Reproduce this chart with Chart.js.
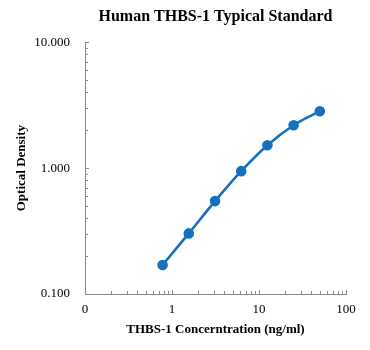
<!DOCTYPE html>
<html>
<head>
<meta charset="utf-8">
<script src="https://cdn.jsdelivr.net/npm/chart.js@4"></script>
<style>
  html, body { margin: 0; padding: 0; background: #fff; }
  #wrap { width: 370px; height: 350px; }
</style>
</head>
<body>
<div id="wrap"><canvas id="curve" width="370" height="350"></canvas></div>
<script>
// standard curve readings
const concentrations = [0.78, 1.56, 3.125, 6.25, 12.5, 25, 50];
const opticalDensity = [0.170, 0.303, 0.547, 0.946, 1.52, 2.19, 2.83];

const xTickValues = [0.1, 1, 10, 100];
const xTickLabels = ['0', '1', '10', '100'];
const yTickValues = [0.1, 1, 10];
const yTickLabels = ['0.100', '1.000', '10.000'];

const serif = 'Liberation Serif';
const axisGrey = '#8a8a8a';
const blue = '#1670C0';

// Excel-style tick marks drawn on the inside of the axes
const innerTicks = {
    id: 'innerTicks',
    afterDraw(chart) {
        const ctx = chart.ctx;
        const xs = chart.scales.x, ys = chart.scales.y;
        const area = chart.chartArea;
        ctx.save();
        ctx.strokeStyle = axisGrey;
        ctx.lineWidth = 1;
        ctx.beginPath();
        for (let d = 0.1; d < 100; d *= 10) {
            for (let m = 1; m <= 10; m++) {
                const v = d * m;
                if (v > 100.0001) continue;
                const px = Math.round(xs.getPixelForValue(v)) + 0.5;
                const len = (m === 1 || m === 10) ? 4 : 3;
                ctx.moveTo(px, area.bottom);
                ctx.lineTo(px, area.bottom - len);
            }
        }
        for (let d = 0.1; d < 10; d *= 10) {
            for (let m = 1; m <= 10; m++) {
                const v = d * m;
                const py = Math.round(ys.getPixelForValue(v)) + 0.5;
                const len = (m === 1 || m === 10) ? 4 : 3;
                ctx.moveTo(area.left, py);
                ctx.lineTo(area.left + len, py);
            }
        }
        ctx.stroke();
        ctx.restore();
    }
};

new Chart(document.getElementById('curve').getContext('2d'), {
    type: 'line',
    data: {
        datasets: [{
            data: concentrations.map((c, i) => ({ x: c, y: opticalDensity[i] })),
            borderColor: blue,
            backgroundColor: blue,
            borderWidth: 2.6,
            pointRadius: 4,
            pointHoverRadius: 4,
            tension: 0.4
        }]
    },
    options: {
        responsive: false,
        animation: false,
        layout: { padding: { left: 8, right: 24, top: 0, bottom: 10 } },
        plugins: {
            legend: { display: false },
            tooltip: { enabled: false },
            title: {
                display: true,
                text: 'Human THBS-1 Typical Standard',
                fullSize: false,
                color: '#000',
                font: { family: serif, size: 16, weight: 'bold' },
                padding: { top: 7, bottom: 16 }
            }
        },
        scales: {
            x: {
                type: 'logarithmic',
                min: 0.1,
                max: 100,
                afterBuildTicks: s => { s.ticks = xTickValues.map(v => ({ value: v })); },
                afterFit: s => { s.height = 46; },
                ticks: {
                    autoSkip: false,
                    maxRotation: 0,
                    padding: 8,
                    color: '#000',
                    font: { family: serif, size: 13 },
                    callback: v => xTickLabels[xTickValues.indexOf(v)]
                },
                grid: { display: false, drawTicks: false },
                border: { display: true, color: axisGrey, width: 1 },
                title: {
                    display: true,
                    text: 'THBS-1 Concerntration (ng/ml)',
                    color: '#000',
                    font: { family: serif, size: 13, weight: 'bold' },
                    padding: { top: 0, bottom: 3 }
                }
            },
            y: {
                type: 'logarithmic',
                min: 0.1,
                max: 10,
                afterBuildTicks: s => { s.ticks = yTickValues.map(v => ({ value: v })); },
                afterFit: s => { s.width = 77; },
                ticks: {
                    autoSkip: false,
                    padding: 15,
                    color: '#000',
                    font: { family: serif, size: 13 },
                    callback: v => yTickLabels[yTickValues.indexOf(v)]
                },
                grid: { display: false, drawTicks: false },
                border: { display: true, color: axisGrey, width: 1 },
                title: {
                    display: true,
                    text: 'Optical Density',
                    color: '#000',
                    font: { family: serif, size: 13, weight: 'bold' },
                    padding: { top: 6, bottom: 0 }
                }
            }
        }
    },
    plugins: [innerTicks]
});
</script>
</body>
</html>
